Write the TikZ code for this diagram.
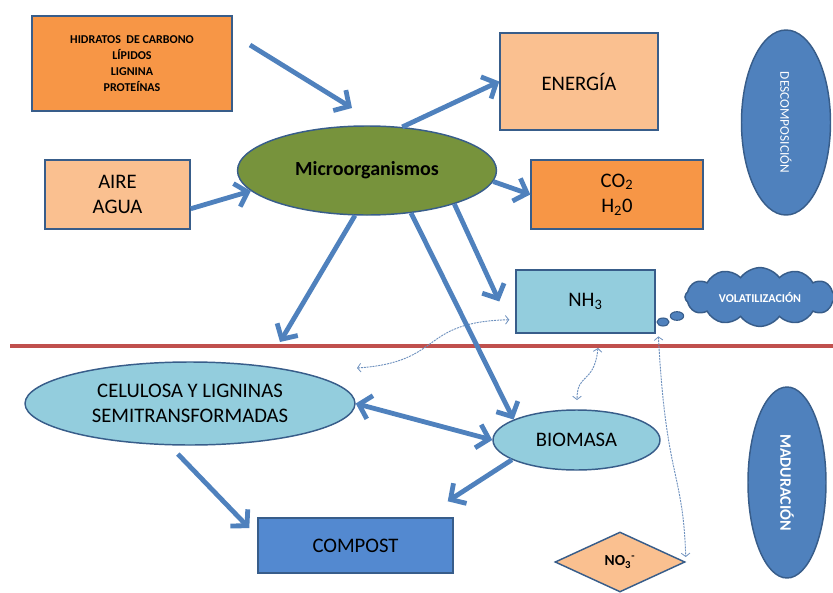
\documentclass[tikz,border=0pt]{standalone}
\usepackage{fontspec}
\setmainfont{Carlito}
\usetikzlibrary{arrows.meta,shapes.geometric,shapes.symbols}
\definecolor{orgdark}{RGB}{247,150,70}
\definecolor{orglight}{RGB}{250,192,144}
\definecolor{olive}{RGB}{119,147,60}
\definecolor{midblue}{RGB}{79,129,189}
\definecolor{bord}{RGB}{56,93,138}
\definecolor{lightblue}{RGB}{147,205,221}
\definecolor{compostblue}{RGB}{83,137,208}
\definecolor{redline}{RGB}{192,80,77}
\definecolor{dotc}{RGB}{110,145,190}
\tikzset{
  shp/.style={draw=bord, line width=1.1pt, inner sep=0pt, align=center, text=black},
  bigtext/.style={font=\fontsize{15.5}{19}\selectfont},
  bigarrow/.style={draw=midblue, line width=3.6pt, -{Straight Barb[length=8.5pt,width=18pt]}},
  dotarrow/.style={draw=dotc, line width=0.7pt, dash pattern=on 1.5pt off 0.7pt,
    {Straight Barb[length=2.5pt,width=6.5pt,line width=0.6pt]}-{Straight Barb[length=2.5pt,width=6.5pt,line width=0.6pt]}},
}
\begin{document}
\begin{tikzpicture}[x=0.75pt,y=-0.75pt]
\useasboundingbox (0,0) rectangle (833,593);

% nodes
\node[shp, rectangle, fill=orgdark, minimum width=150pt, minimum height=71.25pt,
  font=\fontsize{9}{12}\selectfont\bfseries] (hid) at (132,63.5)
  {HIDRATOS\ \ DE CARBONO\\LÍPIDOS\\LIGNINA\\PROTEÍNAS};
\node[shp, rectangle, fill=orglight, minimum width=108.75pt, minimum height=51.75pt, bigtext] (aire) at (117.5,194.5) {AIRE\\AGUA};
\node[shp, ellipse, fill=olive, minimum width=194.25pt, minimum height=66.75pt,
  font=\fontsize{15}{18}\selectfont\bfseries] (micro) at (367,170.5) {Microorganismos};
\node[shp, rectangle, fill=orglight, minimum width=118.5pt, minimum height=72.75pt, bigtext] (ener) at (579,81.5) {ENERGÍA};
\node[shp, rectangle, fill=orgdark, minimum width=129pt, minimum height=51.75pt, bigtext] (co2) at (617,194.5) {CO\textsubscript{2}\\H\textsubscript{2}0};
\node[shp, ellipse, fill=midblue, minimum width=66.75pt, minimum height=138.75pt] (desc) at (786,122.5) {};
\node[text=white, rotate=-90, font=\fontsize{10}{12}\selectfont] (desct) at (desc.center) {DESCOMPOSICIÓN};
\node[shp, rectangle, fill=lightblue, minimum width=104.25pt, minimum height=47.25pt, bigtext] (nh3) at (585.5,301.5) {NH\textsubscript{3}};
\node[shp, cloud, cloud puffs=12, cloud puff arc=110, aspect=2.6, fill=midblue, text=white,
  minimum width=112.5pt, minimum height=42.75pt, font=\fontsize{9}{10}\selectfont\bfseries] (vol) at (760,297) {VOLATILIZACIÓN};
\node[shp, ellipse, fill=midblue, minimum width=9pt, minimum height=6pt, line width=0.8pt] (b1) at (663,322) {};
\node[shp, ellipse, fill=midblue, minimum width=10pt, minimum height=6.5pt, line width=0.8pt] (b2) at (677,316) {};
\node[shp, ellipse, fill=lightblue, minimum width=247.5pt, minimum height=62.25pt, bigtext] (celu) at (190,403.5) {CELULOSA Y LIGNINAS\\SEMITRANSFORMADAS};
\node[shp, ellipse, fill=lightblue, minimum width=125.25pt, minimum height=45pt, bigtext] (bio) at (576.5,440) {BIOMASA};
\node[shp, rectangle, fill=compostblue, minimum width=146.25pt, minimum height=41.25pt, bigtext] (comp) at (355.5,545.5) {COMPOST};
\node[shp, diamond, fill=orglight, minimum width=97.5pt, minimum height=45pt,
  font=\fontsize{11.5}{13}\selectfont\bfseries] (no3) at (620,562) {NO\textsubscript{3}\textsuperscript{-}};
\node[shp, ellipse, fill=midblue, minimum width=58.5pt, minimum height=143.25pt] (madu) at (787,482.5) {};
\node[text=white, rotate=-90, font=\fontsize{12}{14}\selectfont\bfseries] (madut) at (madu.center) {MADURACIÓN};

% red line
\coordinate (lineL) at (10,346);
\coordinate (lineR) at (833,346);
\draw[redline, line width=2.4pt] (lineL) -- (lineR);

% dotted connectors
\coordinate (dl) at (357,368);
\draw[dotarrow] (dl) .. controls (445,362) and (418,322) .. ([xshift=-4.5pt,yshift=10.5pt]nh3.south west);
\coordinate (dm) at (598,348);
\coordinate (dmb) at (577,400);
\draw[dotarrow] (dm) .. controls (594,385) and (577,372) .. (dmb);
\draw[dotarrow] ([xshift=2pt,yshift=-2pt]nh3.south east) .. controls (666,480) and (683,470) .. ([yshift=3.75pt]no3.east);

% big arrows
\coordinate (hs) at (250,45);
\coordinate (he) at (352,108);
\draw[bigarrow] (hs) -- (he);
\draw[bigarrow] (aire.-11.3) -- (micro.190);
\draw[bigarrow] (micro.51.6) -- (ener.west);
\draw[bigarrow] (micro.-5.2) -- (co2.west);
\draw[bigarrow] (micro.-21) -- ([xshift=-12pt]nh3.west);
\draw[bigarrow] (micro.-44.7) -- (bio.162);
\coordinate (dn) at (280,342);
\draw[bigarrow] (micro.-105) -- (dn);
\draw[draw=midblue, line width=3.6pt, {Straight Barb[length=8.5pt,width=18pt]}-{Straight Barb[length=8.5pt,width=18pt]}] (celu.east) -- (bio.west);
\draw[bigarrow] (bio.197.5) -- ([xshift=-4.5pt,yshift=12pt]comp.north east);
\draw[bigarrow, shorten <=9pt] (celu.-116) -- ([xshift=-6pt,yshift=13pt]comp.west);
\end{tikzpicture}
\end{document}
